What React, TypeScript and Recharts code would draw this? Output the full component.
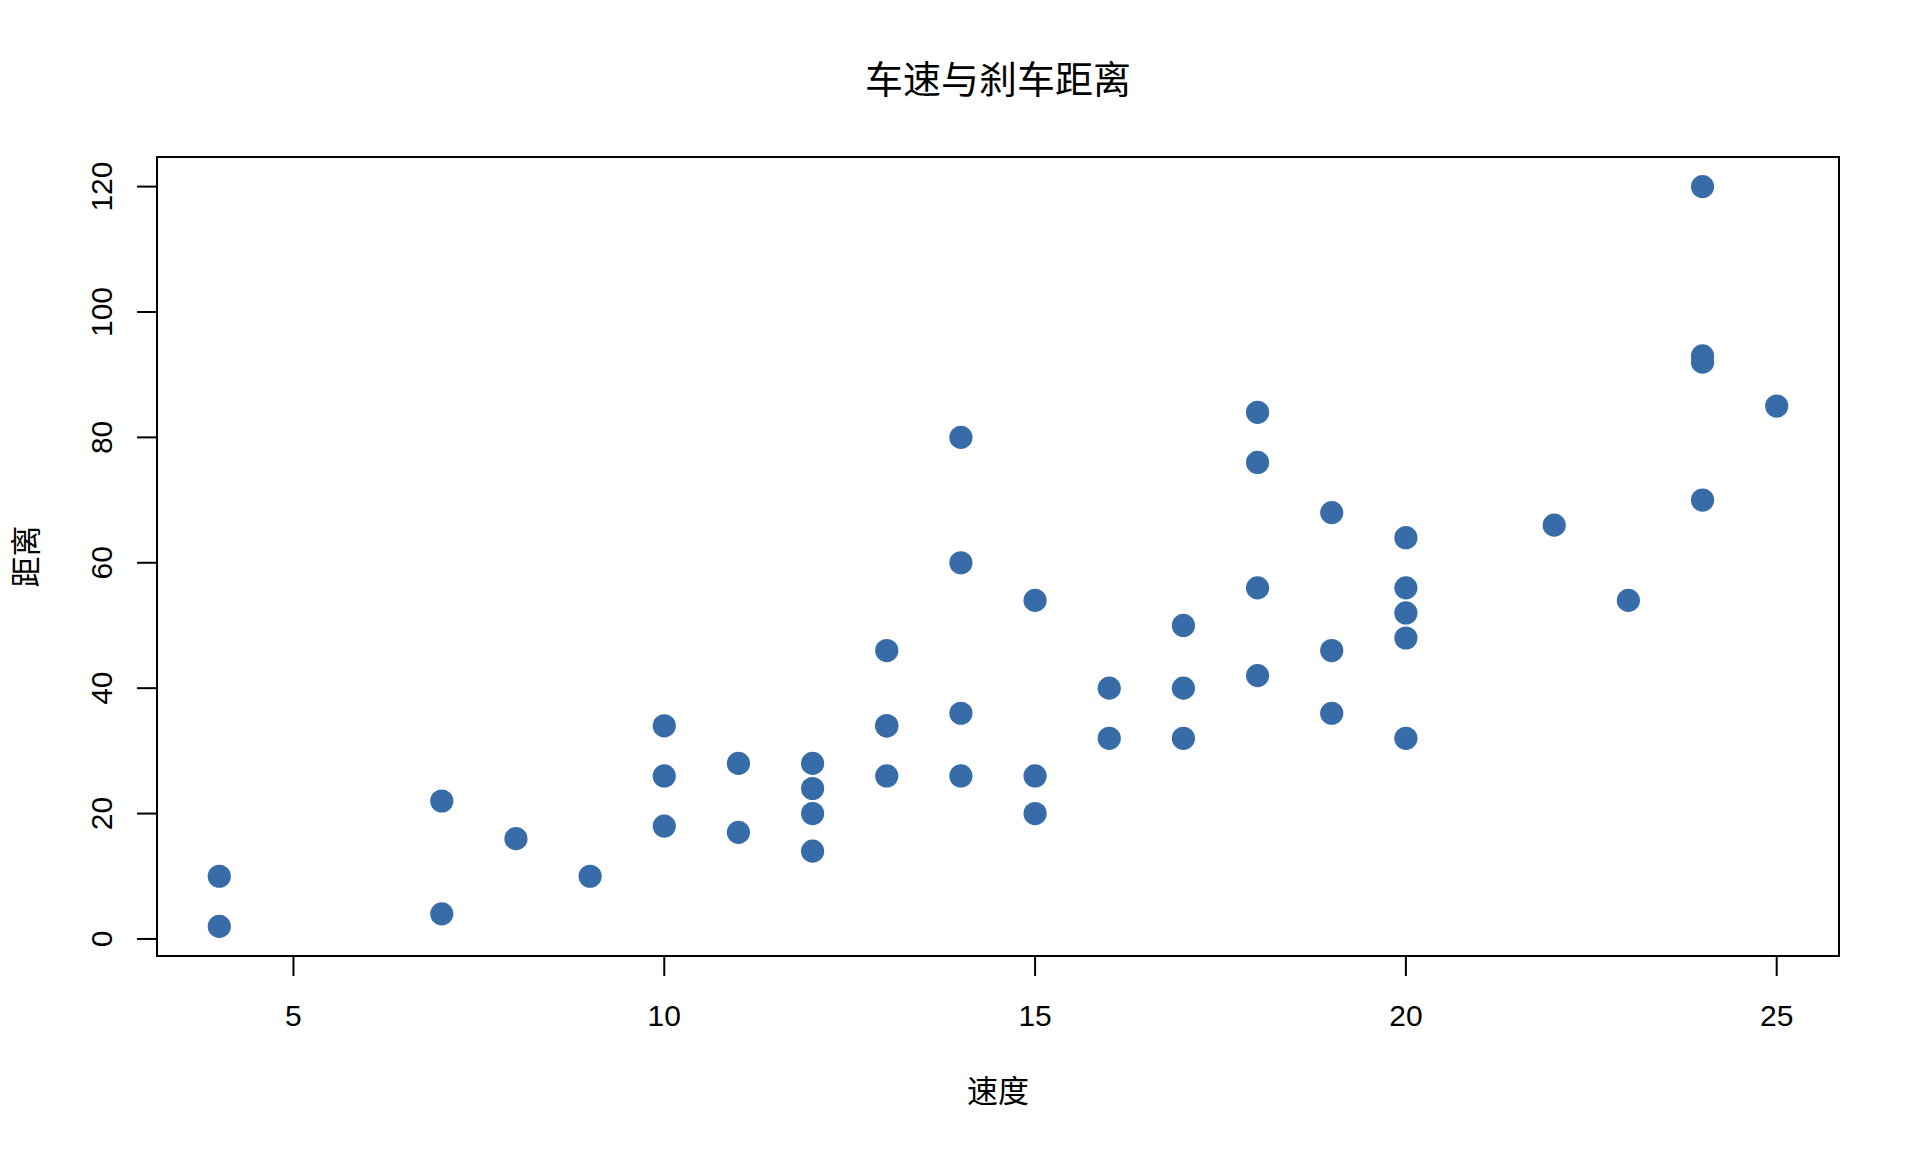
import {
  ReferenceArea,
  Scatter,
  ScatterChart,
  XAxis,
  YAxis,
} from "recharts";

// cars dataset: speed vs stopping distance
const speed = [
  4, 4, 7, 7, 8, 9, 10, 10, 10, 11, 11, 12, 12, 12, 12, 13, 13, 13, 13, 14, 14, 14, 14, 15, 15,
  15, 16, 16, 17, 17, 17, 18, 18, 18, 18, 19, 19, 19, 20, 20, 20, 20, 20, 22, 23, 24, 24, 24, 24, 25,
];
const dist = [
  2, 10, 4, 22, 16, 10, 18, 26, 34, 17, 28, 14, 20, 24, 28, 26, 34, 34, 46, 26, 36, 60, 80, 20, 26,
  54, 32, 40, 32, 40, 50, 42, 56, 76, 84, 36, 46, 68, 32, 48, 52, 56, 64, 66, 54, 70, 92, 93, 120, 85,
];
const xTicks = [5, 10, 15, 20, 25];
const yTicks = [0, 20, 40, 60, 80, 100, 120];
// data range padded by 4% on each side
const xDomain: [number, number] = [3.16, 25.84];
const yDomain: [number, number] = [-2.72, 124.72];

const title = "车速与刹车距离";
const xLabel = "速度";
const yLabel = "距离";

const pointColor = "#386ca9";
const fontFamily = '"Liberation Sans", Arial, "Noto Sans CJK SC", sans-serif';
const cjkFont = '"Noto Sans CJK SC", sans-serif';

const rows = speed.map((s, i) => ({ speed: s, dist: dist[i] }));

function YTick({ y, payload }: any) {
  return (
    <text
      x={112}
      y={y}
      transform={`rotate(-90, 112, ${y})`}
      textAnchor="middle"
      fill="#000"
      fontSize={30}
      fontFamily={fontFamily}
    >
      {payload.value}
    </text>
  );
}

function Dot({ cx, cy }: any) {
  return <circle cx={cx} cy={cy} r={11.6} fill={pointColor} />;
}

export default function App() {
  return (
    <div
      style={{
        position: "absolute",
        left: 0,
        top: 0,
        width: 1920,
        height: 1152,
        background: "#fff",
        fontFamily,
      }}
    >
      <div
        style={{
          position: "absolute",
          left: 157,
          width: 1682,
          top: 58,
          textAlign: "center",
          fontSize: 38,
          lineHeight: "38px",
          color: "#000",
          fontFamily: cjkFont,
        }}
      >
        {title}
      </div>
      <ScatterChart
        width={1920}
        height={1152}
        margin={{ top: 157, right: 81, left: 0, bottom: 0 }}
      >
        <XAxis
          type="number"
          dataKey="speed"
          domain={xDomain}
          ticks={xTicks}
          interval={0}
          allowDataOverflow
          height={196}
          axisLine={false}
          tickLine={{ stroke: "#000", strokeWidth: 2 }}
          tickSize={20}
          tickMargin={29}
          tick={{ fill: "#000", fontSize: 30, fontFamily }}
          label={{
            content: ({ viewBox }: any) => (
              <text
                x={viewBox.x + viewBox.width / 2}
                y={viewBox.y + 146}
                textAnchor="middle"
                fill="#000"
                fontSize={31}
                fontFamily={cjkFont}
              >
                {xLabel}
              </text>
            ),
          }}
        />
        <YAxis
          type="number"
          dataKey="dist"
          domain={yDomain}
          ticks={yTicks}
          interval={0}
          allowDataOverflow
          width={157}
          axisLine={false}
          tickLine={{ stroke: "#000", strokeWidth: 2 }}
          tickSize={20}
          tick={<YTick />}
          label={{
            content: ({ viewBox }: any) => {
              const cy = viewBox.y + viewBox.height / 2;
              return (
                <text
                  x={37}
                  y={cy}
                  transform={`rotate(-90, 37, ${cy})`}
                  textAnchor="middle"
                  fill="#000"
                  fontSize={31}
                  fontFamily={cjkFont}
                >
                  {yLabel}
                </text>
              );
            },
          }}
        />
        <ReferenceArea
          x1={xDomain[0]}
          x2={xDomain[1]}
          y1={yDomain[0]}
          y2={yDomain[1]}
          fill="none"
          fillOpacity={0}
          stroke="#000"
          strokeWidth={2}
          strokeOpacity={1}
        />
        <Scatter data={rows} shape={<Dot />} isAnimationActive={false} />
      </ScatterChart>
    </div>
  );
}
